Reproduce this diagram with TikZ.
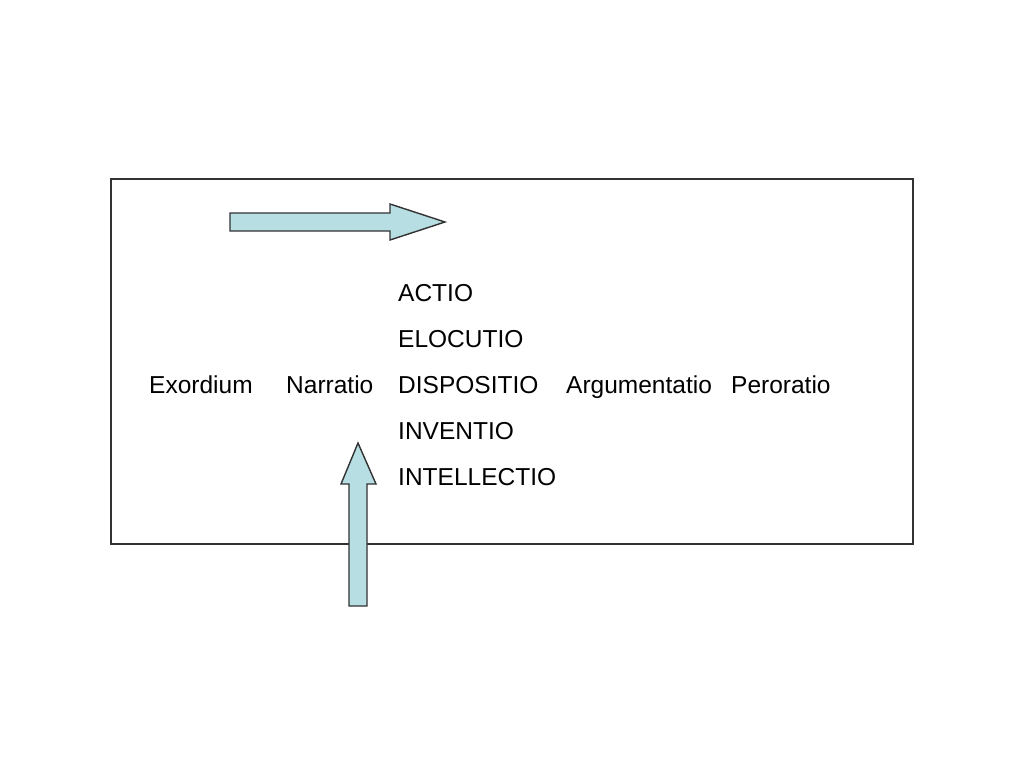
\documentclass[tikz,border=0pt]{standalone}
\usepackage{fontspec}
\setmainfont{Liberation Sans}
\definecolor{arrowfill}{RGB}{183,222,226}
\definecolor{edge}{RGB}{50,50,50}
\begin{document}
\begin{tikzpicture}[x=1pt,y=-1pt,
  lbl/.style={anchor=base west,inner sep=0pt,font=\fontsize{24.5pt}{28pt}\selectfont},
  fatarrow/.style={fill=arrowfill,draw=edge,line width=1.4pt,line join=miter}]
\useasboundingbox (0,0) rectangle (1024,768);
\fill[white] (0,0) rectangle (1024,768);
\draw[edge,line width=1.3pt] (111,179) rectangle (913,544);
\node[lbl] (actio) at (398,301.5) {ACTIO};
\node[lbl] (elocutio) at (398,347.5) {ELOCUTIO};
\node[lbl] (dispositio) at (398,393) {DISPOSITIO};
\node[lbl] (inventio) at (398,439) {INVENTIO};
\node[lbl] (intellectio) at (398,485) {INTELLECTIO};
\node[lbl] (exordium) at (149,393) {Exordium};
\node[lbl] (narratio) at (286,393) {Narratio};
\node[lbl] (argumentatio) at (566,393) {Argumentatio};
\node[lbl] (peroratio) at (731,393) {Peroratio};
\draw[fatarrow] (230,213) -- (390,213) -- (390,204) -- (445,222) -- (390,240) -- (390,231) -- (230,231) -- cycle;
\draw[fatarrow] (349,606) -- (349,484) -- (341,484) -- (358,443) -- (376,484) -- (367,484) -- (367,606) -- cycle;
\end{tikzpicture}
\end{document}
